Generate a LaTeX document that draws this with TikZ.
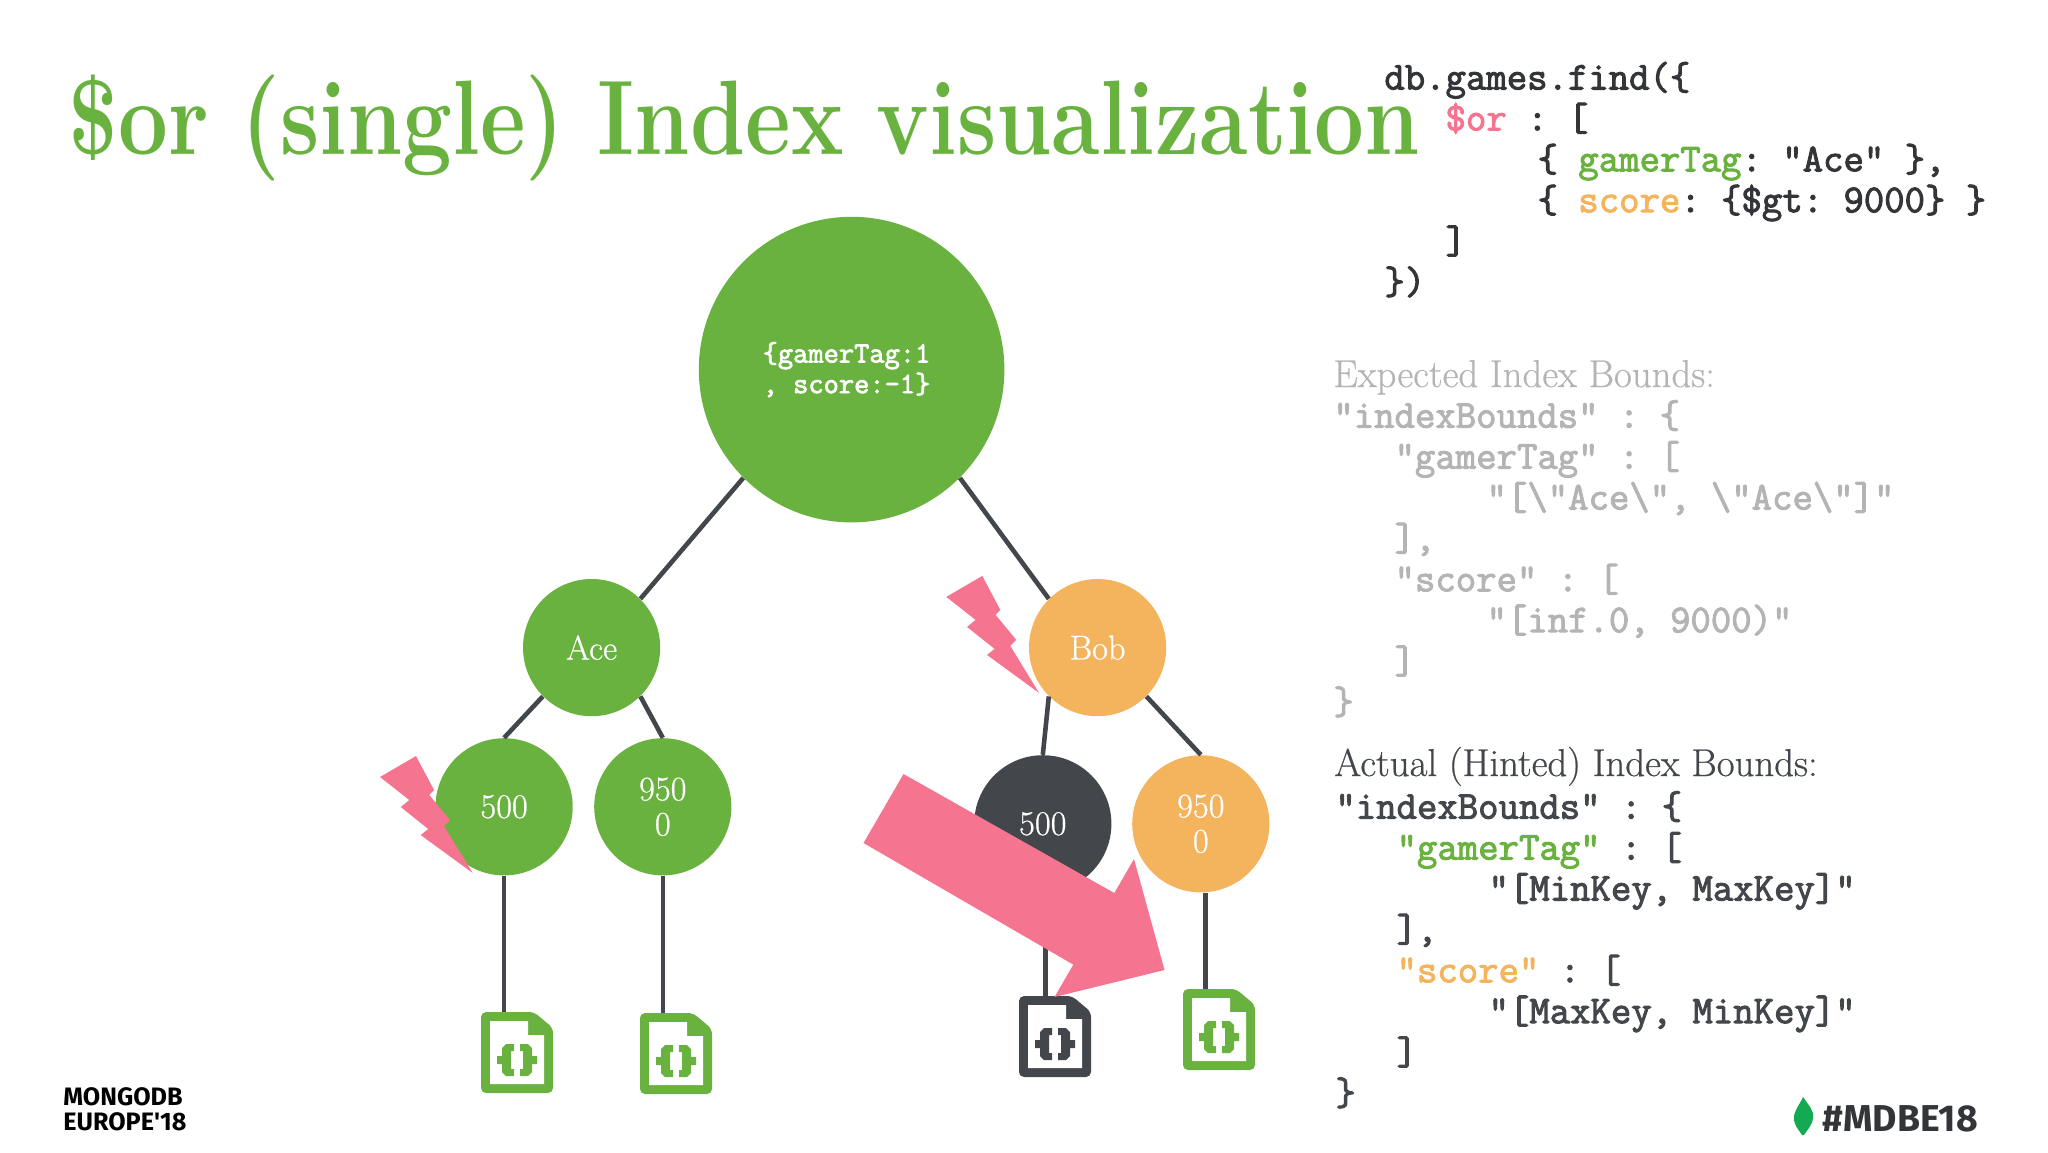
\documentclass[tikz,border=0pt]{standalone}
\usepackage{fontspec}
\usetikzlibrary{positioning}
\newfontfamily\logofont{Fira Sans}
\newfontfamily\titlefont{Latin Modern Roman}[FakeStretch=0.835]
\newfontfamily\keyfont{Latin Modern Roman}[FakeBold=0.6]
\newfontfamily\codefont{Latin Modern Mono}[FakeBold=2.5]

\definecolor{leafgreen}{HTML}{69B23F}
\definecolor{boborange}{HTML}{F4B45E}
\definecolor{slate}{HTML}{43464B}
\definecolor{boltpink}{HTML}{F5748F}
\definecolor{hintgray}{HTML}{B4B4B6}
\definecolor{inkdark}{HTML}{333539}
\definecolor{mongoleaf}{HTML}{13AA52}

\tikzset{
    keynode/.style={circle,inner sep=0pt,minimum size=68.6pt,text=white,align=center,
        font=\fontsize{17.2}{17.6}\selectfont\keyfont},
    treeline/.style={draw=slate,line width=2.3pt},
    codeblock/.style={anchor=base west,inner sep=0pt,align=left,
        font=\fontsize{19.8}{20.45}\selectfont\codefont\frenchspacing},
    heading/.style={anchor=base west,inner sep=0pt,font=\fontsize{19.4}{20}\selectfont\keyfont},
    docnode/.style={inner sep=0pt,minimum width=36pt,minimum height=40.5pt}
}

% half a code character
\newcommand{\halfch}{\hspace*{5.2pt}}

% file icon, top left corner at #2,#3
\newcommand{\docicon}[4]{
    \begin{scope}[shift={(#2,#3)}]
        \node[docnode] (#1) at (36,40.5) {};
        \fill[#4,rounded corners=2.5pt] (0,0) -- (53,0) -- (72,16) -- (72,81) -- (0,81) -- cycle;
        \fill[white] (9,9) -- (47,9) -- (47,23) -- (63,23) -- (63,72) -- (9,72) -- cycle;
        \foreach \flip/\off in {1/0,-1/72}{
            \begin{scope}[shift={(\off,0)},xscale=\flip]
                \fill[#4] (33,32) -- (25,32) -- (21,36) -- (21,44) -- (16,44) -- (16,52) -- (21,52) -- (21,60) -- (25,64) -- (33,64) -- (33,57) -- (30,57) -- (30,39) -- (33,39) -- cycle;
            \end{scope}
        }
    \end{scope}
}

% lightning mark, tip at #1,#2
\newcommand{\boltmark}[2]{
    \fill[boltpink,shift={(#1,#2)}] (0,0) -- (-28.7,-47) -- (-22.7,-53) -- (-43.4,-78) -- (-38.7,-83) -- (-56.7,-117) -- (-92.7,-96) -- (-63.4,-73) -- (-72,-66) -- (-44.4,-44) -- (-52,-38) -- cycle;
}

\begin{document}
\begin{tikzpicture}[x=0.5pt,y=-0.5pt,on grid]

    \useasboundingbox (0,0) rectangle (2048,1152);

    \node[anchor=base west,inner sep=0pt,text=leafgreen,font=\fontsize{53}{56}\selectfont\titlefont\bfseries] (title) at (68,154) {\$or (single) Index visualization};

    % tree
    \node[keynode,minimum size=152.8pt,fill=leafgreen] (root) at (851.6,369.6) {};
    \node[font=\fontsize{14.8}{15.3}\selectfont\codefont,text=white,align=center] (rootkey) at (846.5,369.6) {\{gamerTag:1\\, score:-1\}};
    \node[keynode,fill=leafgreen] (ace) [below left=139pt and 130pt of root] {Ace};
    \node[keynode,fill=boborange] (bob) [below right=139pt and 123pt of root] {Bob};
    \node[keynode,fill=leafgreen] (acelow) [below left=79.6pt and 43.75pt of ace] {500};
    \node[keynode,fill=leafgreen] (acehigh) [below right=79.6pt and 35.6pt of ace] {950\\0};
    \node[keynode,fill=slate] (boblow) [below left=88.1pt and 27.4pt of bob] {500};
    \node[keynode,fill=boborange] (bobhigh) [below right=88.1pt and 51.6pt of bob] {950\\0};

    \docicon{docacelow}{481}{1012}{leafgreen}
    \docicon{docacehigh}{640}{1013}{leafgreen}
    \docicon{docboblow}{1019}{996}{slate}
    \docicon{docbobhigh}{1183}{989}{leafgreen}

    \path[treeline]
    (root.225) edge (ace.45)
    (root.-45) edge (bob.135)
    (ace.225) edge (acelow.90)
    (ace.-45) edge (acehigh.90)
    (bob.225) edge (boblow.90)
    (bob.-45) edge (bobhigh.90)
    (acelow.south) edge (acelow.south |- docacelow.north)
    (acehigh.south) edge (acehigh.south |- docacehigh.north)
    (boblow.-88) edge (boblow.-88 |- docboblow.north)
    (bobhigh.-86) edge (bobhigh.-86 |- docbobhigh.north);

    \boltmark{472.7}{873}
    \boltmark{1039}{692.9}
    \fill[boltpink] (903.5,774) -- (863.5,843) -- (1073.3,964.6) -- (1054.5,997) -- (1164.5,970) -- (1134,859) -- (1114.3,893) -- cycle;

    % query text
    \node[codeblock,text=inkdark] (query) at (1384,294) {db.games.find(\{\\
~~~\textcolor{boltpink}{\$or} : [\\
~~~~~~~\halfch\{ \textcolor{leafgreen}{gamerTag}: "Ace" \},\\
~~~~~~~\halfch\{ \textcolor{boborange}{score}: \{\$gt: 9000\} \}\\
~~~]\\
\})};

    \node[heading,text=hintgray] (expectedhead) at (1333,387) {Expected Index Bounds:};
    \node[codeblock,text=hintgray] (expected) at (1333,714) {"indexBounds" : \{\\
~~~"gamerTag" : [\\
~~~~~~~\halfch"[\textbackslash"Ace\textbackslash", \textbackslash"Ace\textbackslash"]"\\
~~~],\\
~~~"score" : [\\
~~~~~~~\halfch"[inf.0, 9000)"\\
~~~]\\
\}};

    \node[heading,text=slate] (actualhead) at (1334,776) {Actual (Hinted) Index Bounds:};
    \node[codeblock,text=slate] (actual) at (1335,1105) {"indexBounds" : \{\\
~~~\textcolor{leafgreen}{"gamerTag"} : [\\
~~~~~~~\halfch"[MinKey, MaxKey]"\\
~~~],\\
~~~\textcolor{boborange}{"score"} : [\\
~~~~~~~\halfch"[MaxKey, MinKey]"\\
~~~]\\
\}};

    % footer
    \node[anchor=base west,inner sep=0pt,align=left,text=black,font=\fontsize{12.6}{12.2}\selectfont\logofont\bfseries] (europe) at (63,1130) {MONGODB\\EUROPE'18};
    \fill[mongoleaf] (1803,1097) .. controls (1809,1106) and (1814,1110) .. (1813,1118) .. controls (1812,1126) and (1807,1130) .. (1804,1135) -- (1802,1135) .. controls (1799,1130) and (1794,1126) .. (1794,1118) .. controls (1794,1110) and (1799,1106) .. (1803,1097) -- cycle;
    \node[anchor=base west,inner sep=0pt,text=inkdark,font=\fontsize{18.7}{20}\selectfont\logofont\bfseries] (hashtag) at (1822,1131) {\#MDBE18};

\end{tikzpicture}
\end{document}
